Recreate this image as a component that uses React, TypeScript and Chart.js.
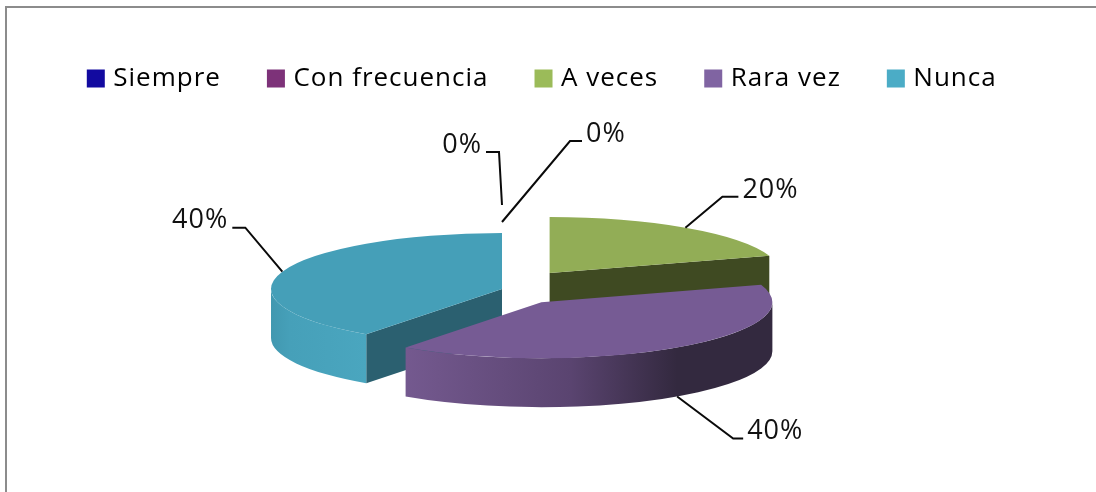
import React, { useEffect, useRef } from "react";
import { Chart, registerables } from "chart.js";

Chart.register(...registerables);

const categories = ["Siempre", "Con frecuencia", "A veces", "Rara vez", "Nunca"];
const values = [0, 0, 20, 40, 40];
const legendColors = ["#120AA0", "#7D3279", "#9BBB59", "#8064A2", "#4BACC6"];
const faceColors = ["#120AA0", "#7D3279", "#92AD56", "#765B94", "#459FB8"];
const cutColors = ["#0A0560", "#4A1E48", "#3F4A22", "#3A2C4A", "#2B6070"];
const wallStops: [number, string][][] = [
  [[0, "#0A0560"], [1, "#0A0560"]],
  [[0, "#4A1E48"], [1, "#4A1E48"]],
  [[0, "#3F4A22"], [1, "#3F4A22"]],
  [[0, "#74598F"], [0.45, "#5A4470"], [0.74, "#33293F"], [1, "#33293F"]],
  [[0, "#4198B0"], [0.2, "#46A0B9"], [1, "#4AA6BF"]],
];
// explode distance of each slice along its middle angle
const sliceOffsets = [0, 0, 81, 67, 0];
// leader line: elbow relative to the slice's rim point, tick length, end pull
const elbowDx = [-3, 68, 37, 56, -37];
const elbowDy = [-81, -92, -31, 42, -44];
const tickLen = [-13, 12, 16, 10, -13];
const endPull = [-28, -11, 0, 0, 0];
const paintOrder = [0, 1, 2, 4, 3];

const FONT = "'Open Sans', sans-serif";
const TRACKING = "1px";
const PIE_X = 502;
const PIE_Y = 289;
const RADIUS = 231;
const SQUASH = 0.2424;
const DEPTH = 49;

const pie3d = {
  id: "pie3d",
  beforeLayout(chart: any) {
    chart.ctx.letterSpacing = TRACKING;
  },
  beforeDraw(chart: any) {
    chart.ctx.letterSpacing = TRACKING;
  },
  beforeDatasetDraw(chart: any) {
    const ctx = chart.ctx;
    const arcs = chart.getDatasetMeta(0).data;
    for (const i of paintOrder) {
      const arc = arcs[i];
      if (arc.circumference === 0) continue;
      const a0 = arc.startAngle;
      const a1 = arc.endAngle;
      const mid = (a0 + a1) / 2;
      const off = sliceOffsets[i];
      const R = arc.outerRadius;
      const px = PIE_X + Math.cos(mid) * off;
      const py = PIE_Y + Math.sin(mid) * off * SQUASH;
      const rim = (a: number) => [px + Math.cos(a) * R, py + Math.sin(a) * R * SQUASH];

      // radial cut faces that look toward the viewer
      const cuts: number[] = [];
      if (Math.sin(a0 - Math.PI / 2) > 0.01) cuts.push(a0);
      if (Math.sin(a1 + Math.PI / 2) > 0.01) cuts.push(a1);
      for (const a of cuts) {
        const [x, y] = rim(a);
        ctx.beginPath();
        ctx.moveTo(px, py);
        ctx.lineTo(x, y);
        ctx.lineTo(x, y + DEPTH);
        ctx.lineTo(px, py + DEPTH);
        ctx.closePath();
        ctx.fillStyle = cutColors[i];
        ctx.fill();
      }

      // outer wall: the part of the rim in the front half of the ellipse
      const w0 = Math.max(a0, 0);
      const w1 = Math.min(a1, Math.PI);
      if (w1 > w0) {
        const [xa] = rim(w0);
        const [xb] = rim(w1);
        const grad = ctx.createLinearGradient(Math.min(xa, xb), 0, Math.max(xa, xb), 0);
        for (const [s, c] of wallStops[i]) grad.addColorStop(s, c);
        ctx.beginPath();
        ctx.ellipse(px, py, R, R * SQUASH, 0, w0, w1);
        ctx.ellipse(px, py + DEPTH, R, R * SQUASH, 0, w1, w0, true);
        ctx.closePath();
        ctx.fillStyle = grad;
        ctx.fill();
      }

      // top face: the chart's own arc, seen at an angle
      ctx.save();
      ctx.translate(px, py);
      ctx.scale(1, SQUASH);
      ctx.translate(-arc.x, -arc.y);
      arc.draw(ctx);
      ctx.restore();
    }
    return false;
  },
  afterDatasetsDraw(chart: any) {
    const ctx = chart.ctx;
    const arcs = chart.getDatasetMeta(0).data;
    const total = values.reduce((a, b) => a + b, 0);
    ctx.save();
    arcs.forEach((arc: any, i: number) => {
      const mid = (arc.startAngle + arc.endAngle) / 2;
      const off = sliceOffsets[i];
      const R = arc.outerRadius;
      const front = Math.sin(mid) > 0;
      const ax = PIE_X + Math.cos(mid) * (off + R);
      const ay = PIE_Y + Math.sin(mid) * (off + R) * SQUASH + (front ? DEPTH : 0);
      const ex = ax + elbowDx[i];
      const ey = ay + elbowDy[i];
      ctx.beginPath();
      ctx.moveTo(ax, ay + endPull[i]);
      ctx.lineTo(ex, ey);
      ctx.lineTo(ex + tickLen[i], ey);
      ctx.strokeStyle = "#0a0a0a";
      ctx.lineWidth = 2;
      ctx.stroke();
      const toRight = tickLen[i] > 0;
      ctx.font = `27px ${FONT}`;
      ctx.fillStyle = "#111111";
      ctx.textAlign = toRight ? "left" : "right";
      ctx.textBaseline = "middle";
      ctx.fillText(
        `${Math.round((values[i] / total) * 100)}%`,
        ex + tickLen[i] + (toRight ? 4 : -4),
        ey - 7
      );
    });
    ctx.restore();
  },
};

export default function App() {
  const ref = useRef<HTMLCanvasElement>(null);
  useEffect(() => {
    const chart = new Chart(ref.current as HTMLCanvasElement, {
      type: "pie",
      data: {
        labels: categories,
        datasets: [
          {
            data: values,
            backgroundColor: faceColors,
            borderWidth: 0,
            radius: RADIUS,
          } as any,
        ],
      },
      options: {
        responsive: false,
        animation: false,
        layout: { padding: { top: 15, right: 8 } },
        plugins: {
          tooltip: { enabled: false },
          legend: {
            display: true,
            position: "top",
            labels: {
              boxWidth: 9,
              boxHeight: 9,
              padding: 50.5,
              color: "#111111",
              font: { family: FONT, size: 26 },
              generateLabels: () =>
                categories.map((text, i) => ({
                  text,
                  fillStyle: legendColors[i],
                  strokeStyle: legendColors[i],
                  lineWidth: 9,
                  hidden: false,
                  index: i,
                })),
            },
          },
        },
      },
      plugins: [pie3d],
    } as any);
    return () => chart.destroy();
  }, []);
  return (
    <div style={{ position: "fixed", left: 0, top: 0, width: 1096, height: 492, background: "#fff", overflow: "hidden" }}>
      <canvas ref={ref} width={1096} height={492} style={{ display: "block", filter: "blur(0.4px)" }} />
      <div
        style={{
          position: "absolute",
          left: 5,
          top: 6,
          width: 1200,
          height: 600,
          border: "2px solid #8c8c8c",
          boxSizing: "border-box",
        }}
      />
    </div>
  );
}
